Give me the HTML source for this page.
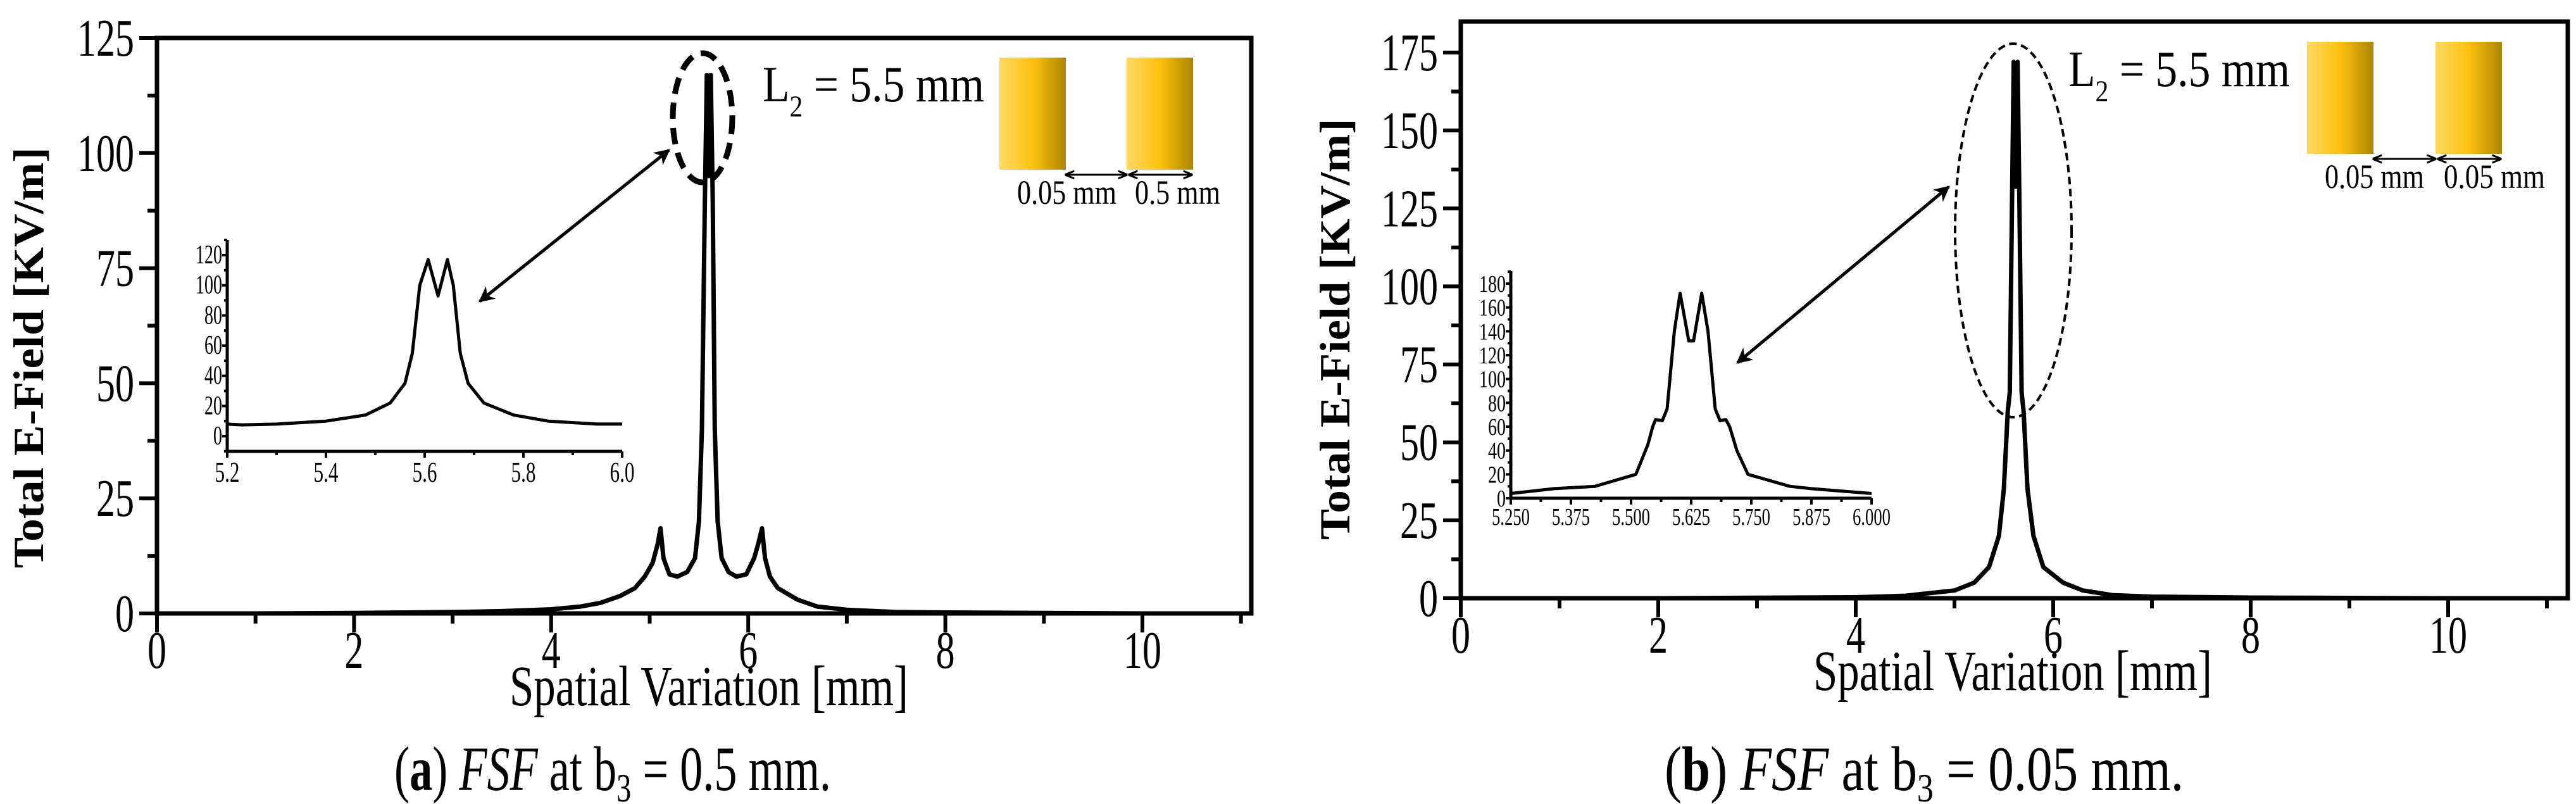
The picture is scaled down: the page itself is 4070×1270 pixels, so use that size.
<!DOCTYPE html>
<html><head><meta charset="utf-8"><style>
html,body{margin:0;padding:0;background:#fff;}
svg{display:block;font-family:"Liberation Serif",serif;}
</style></head><body>
<svg id="fig" width="4070" height="1270" viewBox="0 0 4070 1270" xmlns="http://www.w3.org/2000/svg">
<defs>
<linearGradient id="gold" x1="0" x2="1" y1="0" y2="0">
<stop offset="0" stop-color="#fdd865"/><stop offset="0.5" stop-color="#fdc20e"/><stop offset="1" stop-color="#ad8502"/>
</linearGradient>
<marker id="ah" viewBox="0 0 10 10" refX="9" refY="5" markerWidth="5" markerHeight="5" orient="auto-start-reverse"><path d="M0,0 L10,5 L0,10 L3,5 z" fill="#000"/></marker>
<marker id="ahs" viewBox="0 0 10 10" refX="9" refY="5" markerWidth="5" markerHeight="5" orient="auto-start-reverse"><path d="M0,1 L10,5 L0,9" fill="none" stroke="#000" stroke-width="2"/></marker>
</defs>
<g id="root"></g>
</svg>
<script>
// ---- Panel (a) data ----
const aMainX = [0,1,2,3,3.5,4,4.3,4.5,4.7,4.85,4.95,5.03,5.08,5.11,5.14,5.2,5.28,5.38,5.46,5.5,5.53,5.56,5.58,5.6,5.62,5.64,5.66,5.69,5.73,5.8,5.88,5.98,6.06,6.1,6.14,6.17,6.22,6.3,6.5,6.7,7,7.5,8,9,10,10.6];
const aMainY = [0,0,0.1,0.3,0.5,0.9,1.5,2.3,3.8,5.5,8,11,15,18.5,12,8.5,8,9,12,20,40,90,117,95,117,90,40,20,12,9,8,8.5,12,15,18.5,12,8,5.5,3,1.5,0.8,0.3,0.2,0.1,0,0];
const aInsetX = [5.2,5.23,5.3,5.4,5.48,5.53,5.56,5.575,5.59,5.607,5.627,5.646,5.658,5.672,5.688,5.72,5.78,5.85,5.95,6.0];
const aInsetY = [8,7.5,8,10,14,22,35,55,100,117,93,117,100,55,35,22,14,10,8,8];
const aYTicks = [0,25,50,75,100,125];
const aXTicks = [0,2,4,6,8,10];
const aInsetYTicks = [0,20,40,60,80,100,120];
const aInsetXTicks = ["5.2","5.4","5.6","5.8","6.0"];
// ---- Panel (b) data ----
const bMainX = [0,2,4,4.5,5,5.2,5.35,5.45,5.5,5.54,5.56,5.58,5.6,5.62,5.64,5.66,5.68,5.7,5.74,5.8,5.9,6.1,6.3,6.6,7,8,10,10.6];
const bMainY = [0,0,0.3,0.8,2.5,5,10,20,35,60,66,120,172,132,172,120,66,60,35,20,10,5,2.5,1,0.5,0.2,0,0];
const bInsetX = [5.25,5.34,5.425,5.51,5.535,5.545,5.551,5.565,5.575,5.59,5.602,5.62,5.63,5.647,5.66,5.675,5.685,5.697,5.705,5.72,5.743,5.83,5.875,6.0];
const bInsetY = [4,8,10,20,45,60,66,65,75,140,172,132,132,172,140,75,65,66,60,40,20,10,8,4];
const bYTicks = [0,25,50,75,100,125,150,175];
const bXTicks = [0,2,4,6,8,10];
const bInsetYTicks = [0,20,40,60,80,100,120,140,160,180];
const bInsetXTicks = ["5.250","5.375","5.500","5.625","5.750","5.875","6.000"];

const NS = "http://www.w3.org/2000/svg";
const root = document.getElementById('root');
function el(tag, attrs, parent, text){
  const e = document.createElementNS(NS, tag);
  for (const k in attrs) e.setAttribute(k, attrs[k]);
  if (text !== undefined) e.textContent = text;
  (parent||root).appendChild(e);
  return e;
}
function lin(d0,d1,r0,r1){ return v => r0 + (v-d0)*(r1-r0)/(d1-d0); }
function pathFrom(xs,ys,sx,sy){ return xs.map((x,i)=>(i?'L':'M')+sx(x).toFixed(1)+','+sy(ys[i]).toFixed(1)).join(' '); }

function panel(o){
  const g = el('g',{});
  
  
  const sx = lin(0,10,o.L,o.x10), sy = lin(0,o.yTop,o.y0,o.yTopPx);
  const fr = el('rect',{x:o.L,y:o.T,width:o.R-o.L,height:o.y0-o.T,fill:'none',stroke:'#000','stroke-width':7},g);
   
  for (let v=0; v<=o.yTop; v+=o.yStep/2){
    const major = Math.abs(v/o.yStep - Math.round(v/o.yStep))<1e-6;
    el('line',{x1:o.L,x2:o.L-(major?28:15),y1:sy(v),y2:sy(v),stroke:'#000','stroke-width':6},g);
  }
  o.yTicks.forEach(v=>{
    const t = el('text',{x:o.L-36,y:sy(v)+28,'font-size':84,'text-anchor':'end',textLength:String(v).length*30,lengthAdjust:'spacingAndGlyphs'},g,String(v));
     
  });
  for (let v=0; v<=11; v+=1){
    el('line',{x1:sx(v),x2:sx(v),y1:o.y0,y2:o.y0+(v%2===0?30:16),stroke:'#000','stroke-width':6},g);
  }
  o.xTicks.forEach(v=>{
    const t = el('text',{x:sx(v),y:o.y0+86,'font-size':84,'text-anchor':'middle',textLength:String(v).length*30,lengthAdjust:'spacingAndGlyphs'},g,String(v));
     
  });
  const xt = el('text',{x:o.xTitleX,y:o.y0+145,'font-size':90,'text-anchor':'middle',textLength:630,lengthAdjust:'spacingAndGlyphs'},g,'Spatial Variation [mm]');
   
  const yt = el('text',{x:0,y:0,'font-size':68,'font-weight':'bold','text-anchor':'middle',textLength:665,lengthAdjust:'spacingAndGlyphs',transform:`translate(${o.yTitleX},${o.yTitleY}) rotate(-90)`},g,'Total E-Field [KV/m]');
   
  const c = el('path',{d:pathFrom(o.mx,o.my,sx,sy),fill:'none',stroke:'#000','stroke-width':7,'stroke-linejoin':'round'},g);
   
  const I = o.inset;
  const ix = lin(I.x0,I.x1,I.L,I.R), iy = lin(0,I.yMaxTick,I.y0px,I.yMaxPx);
  const ig = el('g',{},g);
   
  el('line',{x1:I.L,x2:I.L,y1:I.T,y2:I.B,stroke:'#000','stroke-width':5},ig);
  el('line',{x1:I.L,x2:I.R,y1:I.B,y2:I.B,stroke:'#000','stroke-width':5},ig);
  for (let v=I.yMin; iy(v)>=I.T-1; v+=I.yStep/2){
    el('line',{x1:I.L,x2:I.L-((Math.round(v/(I.yStep/2))%2===0)?8:5),y1:iy(v),y2:iy(v),stroke:'#000','stroke-width':4},ig);
  }
  I.yTicks.forEach(v=>{
    const t = el('text',{x:I.L-8,y:iy(v)+13,'font-size':I.yFont,'text-anchor':'end',textLength:String(v).length*14,lengthAdjust:'spacingAndGlyphs'},ig,String(v));
     
  });
  const nx = (I.xTicks.length-1)*2;
  for (let k=0;k<=nx;k++){
    const v = I.x0 + (I.x1-I.x0)*k/nx;
    el('line',{x1:ix(v),x2:ix(v),y1:I.B,y2:I.B+(k%2===0?10:6),stroke:'#000','stroke-width':4},ig);
  }
  I.xTicks.forEach((s,k)=>{
    const v = I.x0 + (I.x1-I.x0)*k/(I.xTicks.length-1);
    const t = el('text',{x:ix(v),y:I.B+I.xLabDy,'font-size':I.xFont,'text-anchor':'middle',textLength:s.length*I.charW,lengthAdjust:'spacingAndGlyphs'},ig,s);
     
  });
  const ic = el('path',{d:pathFrom(I.xs,I.ys,ix,iy),fill:'none',stroke:'#000','stroke-width':5,'stroke-linejoin':'round'},ig);
   
  const e = el('ellipse',{cx:o.ell[0],cy:o.ell[1],rx:o.ell[2],ry:o.ell[3],fill:'none',stroke:'#000','stroke-width':o.ell[4],'stroke-dasharray':o.ell[5]},g);
   
  const ar = el('line',{x1:o.arr[0],y1:o.arr[1],x2:o.arr[2],y2:o.arr[3],stroke:'#000','stroke-width':5,'marker-start':'url(#ah)','marker-end':'url(#ah)'},g);
   
  const lt = el('text',{x:o.l2[0],y:o.l2[1],'font-size':80,textLength:350,lengthAdjust:'spacingAndGlyphs'},g);
   
  el('tspan',{},lt,'L');
  el('tspan',{'font-size':48,dy:24},lt,'2');
  el('tspan',{dy:-24},lt,' = 5.5 mm');
  const B = o.blocks;
  [B.x1,B.x2].forEach((bx,i)=>{
    const r = el('rect',{x:bx,y:B.y,width:105,height:177,fill:'url(#gold)'},g);
     
  });
  el('line',{x1:B.x1+105,x2:B.x2,y1:B.y+185,y2:B.y+185,stroke:'#000','stroke-width':3,'marker-start':'url(#ahs)','marker-end':'url(#ahs)'},g);
  el('line',{x1:B.x2+4,x2:B.x2+103,y1:B.y+185,y2:B.y+185,stroke:'#000','stroke-width':3,'marker-start':'url(#ahs)','marker-end':'url(#ahs)'},g);
  const d1 = el('text',{x:B.x1+28,y:B.y+231,'font-size':54,textLength:157,lengthAdjust:'spacingAndGlyphs'},g,'0.05 mm');
   
  const d2 = el('text',{x:B.x2+13,y:B.y+231,'font-size':54,textLength:B.w2,lengthAdjust:'spacingAndGlyphs'},g,B.t2);
   
  const cap = el('text',{x:o.capX,y:1248,'font-size':100,'text-anchor':'middle',textLength:o.capW,lengthAdjust:'spacingAndGlyphs'},g);
   
  el('tspan',{},cap,'(');
  el('tspan',{'font-weight':'bold'},cap,o.capL);
  el('tspan',{},cap,') ');
  el('tspan',{'font-style':'italic'},cap,'FSF');
  el('tspan',{},cap,' at b');
  el('tspan',{'font-size':64,dy:18},cap,'3');
  el('tspan',{dy:-18},cap,' = '+o.capV+' mm.');
}

panel({name:'panel-a', L:248, R:1977, T:60, x10:1805, y0:969, yTop:125, yTopPx:60, yStep:25,
  yTicks:aYTicks, xTicks:aXTicks, mx:aMainX, my:aMainY, xTitleX:1120, yTitleX:68, yTitleY:565,
  inset:{L:359,R:983,T:379,B:713,x0:5.2,x1:6.0,y0px:689,yMaxPx:403,yMaxTick:120,yMin:-10,yStep:20,
    yTicks:aInsetYTicks,xTicks:aInsetXTicks,xs:aInsetX,ys:aInsetY,xLabDy:48,xFont:46,charW:13,yFont:42},
  ell:[1110,186,47,102,9,'26 14'], arr:[1057,237,758,476],
  l2:[1205,160], blocks:{x1:1579,x2:1780,y:91,t2:'0.5 mm',w2:135},
  capX:968, capL:'a', capV:'0.5', capW:690});

panel({name:'panel-b', L:2308, R:4057, T:34, x10:3868, y0:945, yTop:175, yTopPx:83, yStep:25,
  yTicks:bYTicks, xTicks:bXTicks, mx:bMainX, my:bMainY, xTitleX:3180, yTitleX:2132, yTitleY:520,
  inset:{L:2387,R:2957,T:428,B:787,x0:5.25,x1:6.0,y0px:787,yMaxPx:448,yMaxTick:180,yMin:0,yStep:20,
    yTicks:bInsetYTicks,xTicks:bInsetXTicks,xs:bInsetX,ys:bInsetY,xLabDy:42,xFont:38,charW:12,yFont:38},
  ell:[3181,364,92,295,4,'12 7'], arr:[3079,295,2745,573],
  l2:[3268,136], blocks:{x1:3645,x2:3848,y:66,t2:'0.05 mm',w2:160},
  capX:3040, capL:'b', capV:'0.05', capW:820});
</script>
</body></html>
